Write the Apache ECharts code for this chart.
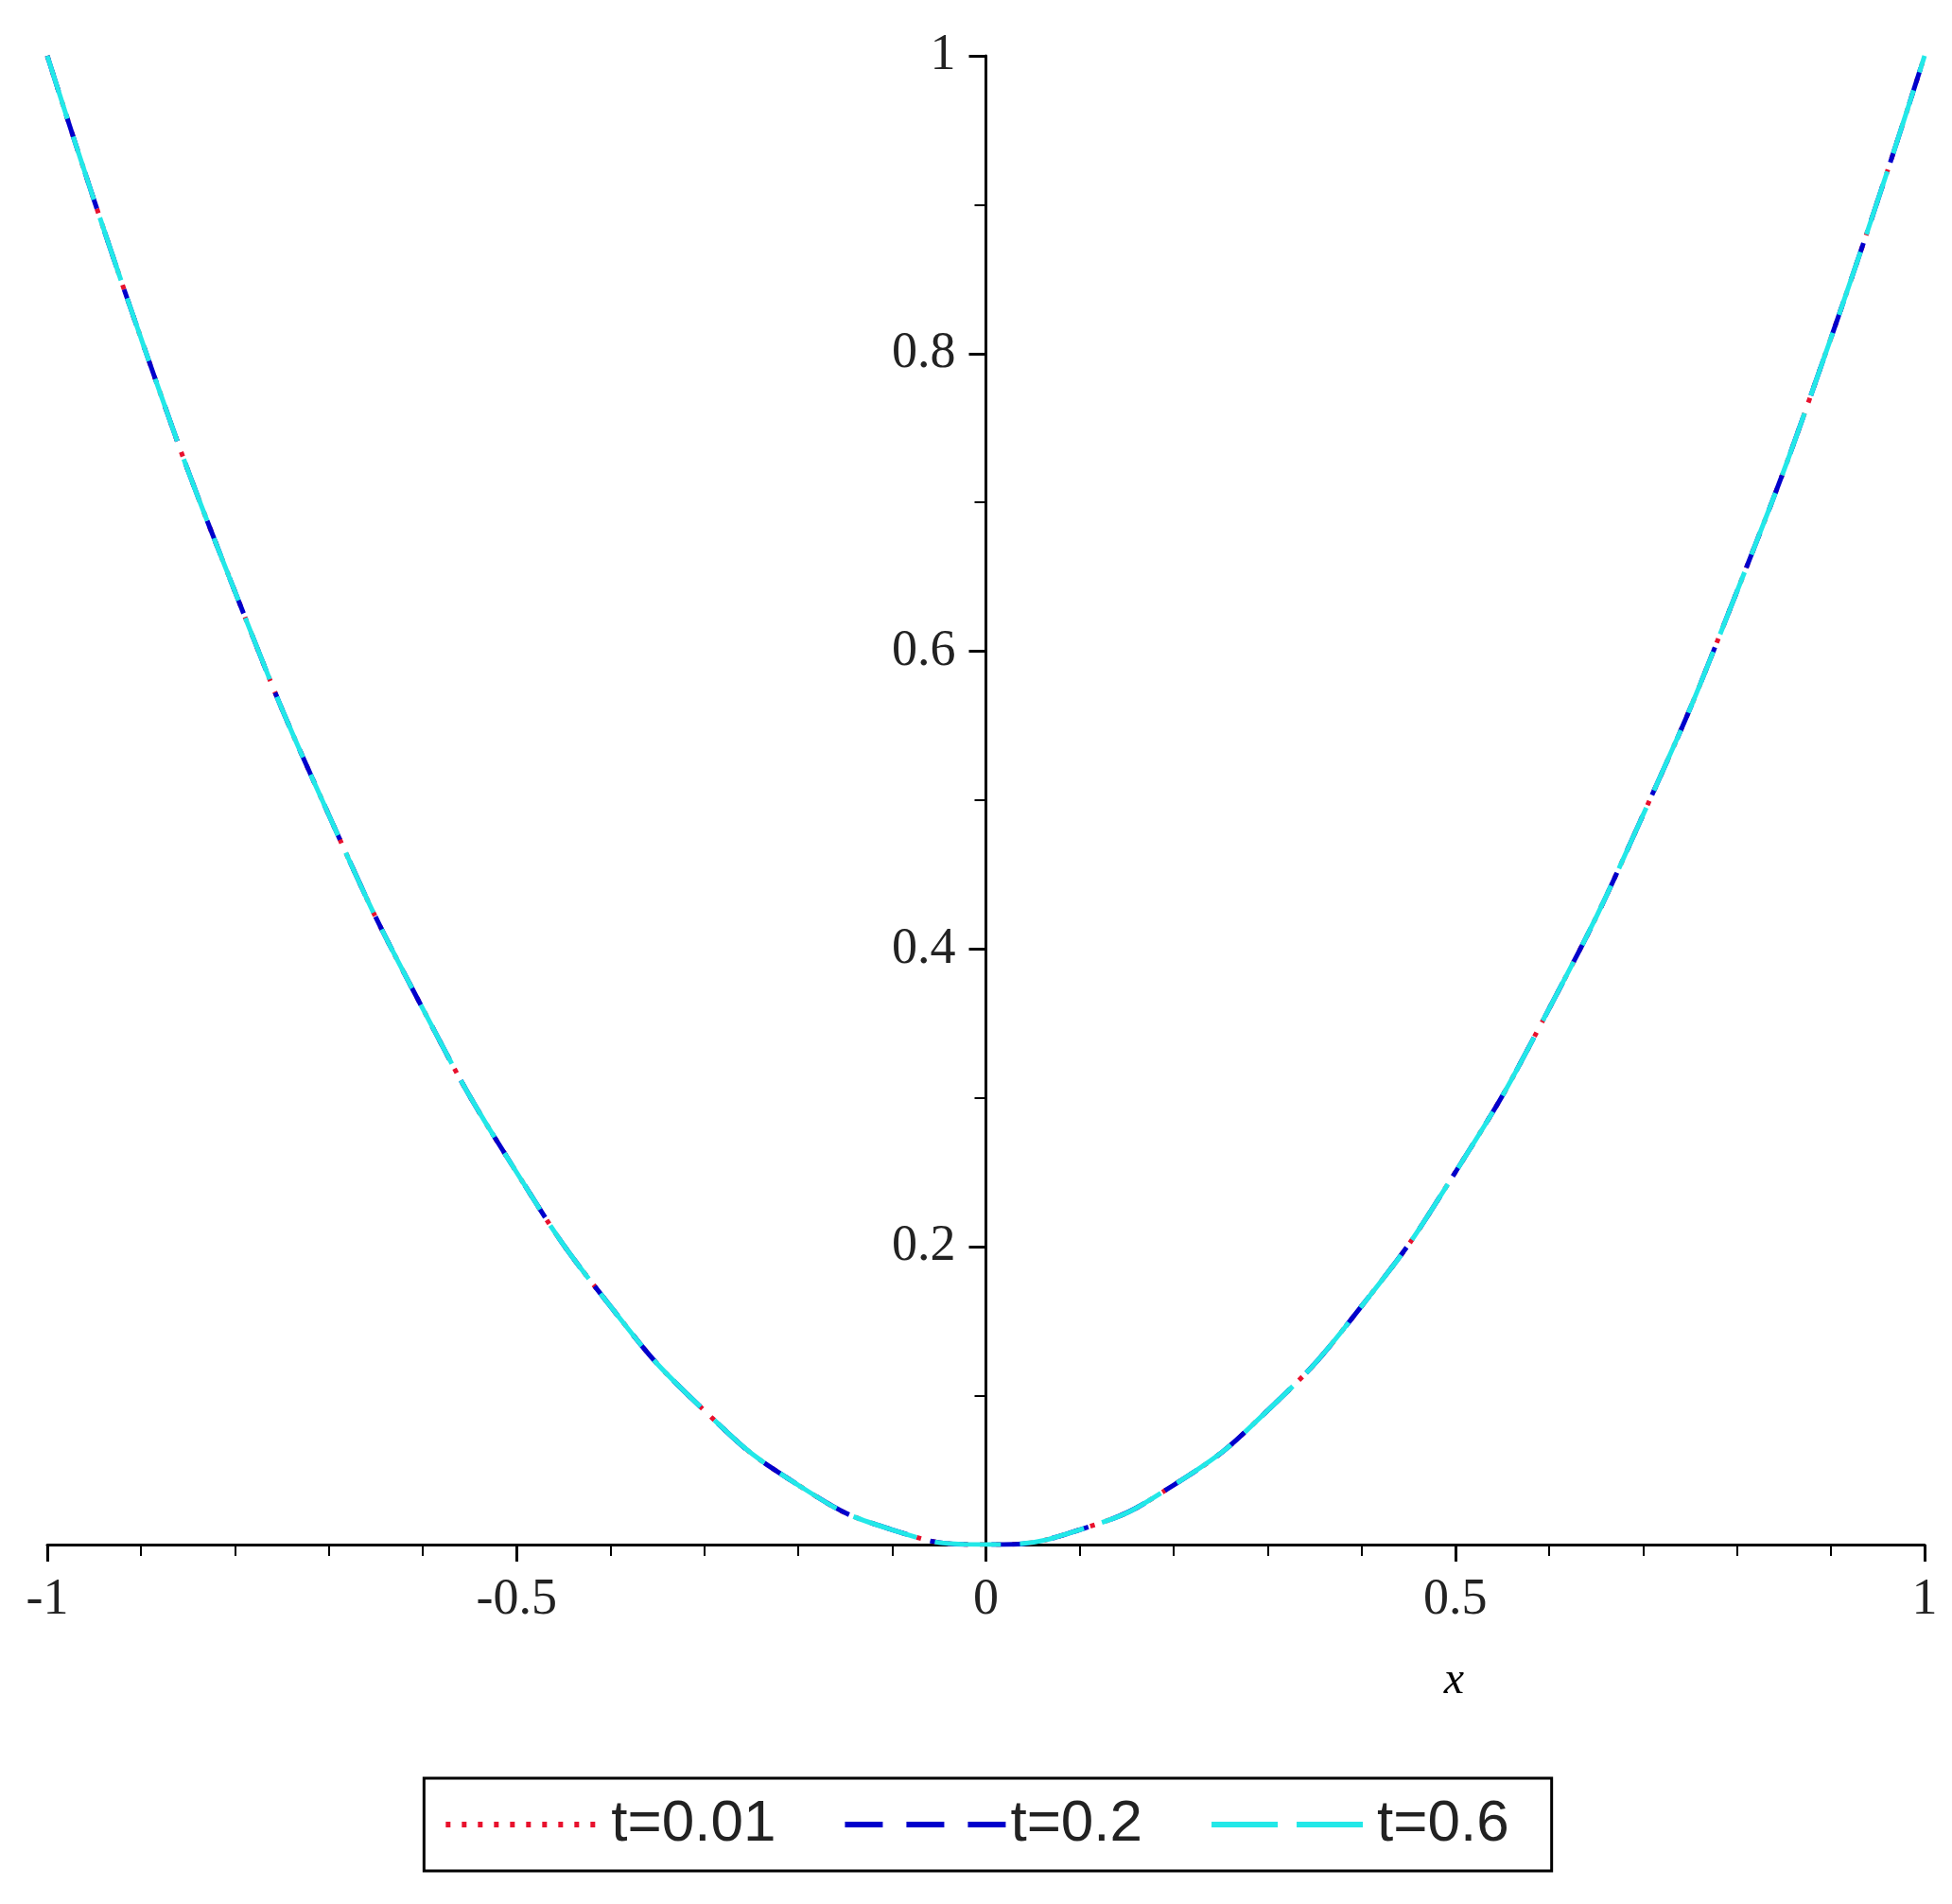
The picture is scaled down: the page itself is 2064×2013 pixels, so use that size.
<!DOCTYPE html>
<html>
<head>
<meta charset="utf-8">
<script src="https://cdn.jsdelivr.net/npm/echarts@6/dist/echarts.min.js"></script>
<style>html,body{margin:0;padding:0;background:#fff}#main{width:2064px;height:2013px}</style>
</head>
<body>
<div id="main"></div>
<script>
// x positions and values
var xs = [-1, -0.9, -0.8, -0.7, -0.6, -0.5, -0.4, -0.3, -0.2, -0.1, 0, 0.1, 0.2, 0.3, 0.4, 0.5, 0.6, 0.7, 0.8, 0.9, 1];
var yT001 = [1, 0.81, 0.64, 0.49, 0.36, 0.25, 0.16, 0.09, 0.04, 0.01, 0, 0.01, 0.04, 0.09, 0.16, 0.25, 0.36, 0.49, 0.64, 0.81, 1];
var yT02 = [1, 0.81, 0.64, 0.49, 0.36, 0.25, 0.16, 0.09, 0.04, 0.01, 0, 0.01, 0.04, 0.09, 0.16, 0.25, 0.36, 0.49, 0.64, 0.81, 1];
var yT06 = [1, 0.81, 0.64, 0.49, 0.36, 0.25, 0.16, 0.09, 0.04, 0.01, 0, 0.01, 0.04, 0.09, 0.16, 0.25, 0.36, 0.49, 0.64, 0.81, 1];
var names = ['t=0.01', 't=0.2', 't=0.6'];

function pairs(ys) {
    var out = [];
    for (var i = 0; i < xs.length; i++) out.push([xs[i], ys[i]]);
    return out;
}

var font = '"Liberation Serif", "DejaVu Serif", serif';
var gridLeft = 50, gridRight = 29;
var plotW = 2064 - gridLeft - gridRight;
var myChart = echarts.init(document.getElementById('main'));
var option = {
    backgroundColor: '#fff',
    animation: false,
    grid: { left: gridLeft, right: gridRight, top: 59, bottom: 380, outerBoundsMode: 'none', containLabel: false },
    legend: {
        bottom: 35, left: 'center',
        padding: [18, 45, 18, 20],
        borderColor: '#000', borderWidth: 3,
        itemWidth: 170, itemHeight: 20, itemGap: 70,
        itemStyle: { opacity: 0 },
        lineStyle: { width: 6 },
        textStyle: { fontFamily: '"Liberation Sans", sans-serif', fontSize: 62, color: '#222' },
        data: names
    },
    xAxis: {
        type: 'value', min: -1, max: 1, interval: 0.5,
        name: 'x', nameLocation: 'middle', nameGap: 120,
        nameTextStyle: { fontFamily: font, fontStyle: 'italic', fontSize: 48, color: '#000', padding: [0, 0, 0, 990] },
        axisLine: { lineStyle: { color: '#000', width: 3 } },
        axisTick: { length: 18, lineStyle: { color: '#000', width: 3 } },
        minorTick: { show: true, splitNumber: 5, length: 12, lineStyle: { color: '#000', width: 2 } },
        axisLabel: { fontFamily: font, fontSize: 54, color: '#222', margin: 32 },
        splitLine: { show: false }
    },
    yAxis: {
        type: 'value', min: 0, max: 1, interval: 0.2,
        position: 'left', offset: -plotW / 2,
        axisLine: { onZero: false, lineStyle: { color: '#000', width: 3 } },
        axisTick: { length: 18, lineStyle: { color: '#000', width: 3 } },
        minorTick: { show: true, splitNumber: 2, length: 12, lineStyle: { color: '#000', width: 2 } },
        axisLabel: { fontFamily: font, fontSize: 54, color: '#222', margin: 32,
            formatter: function (v) { return v === 0 ? '' : String(v); } },
        splitLine: { show: false }
    },
    series: [
        { name: names[0], type: 'line', smooth: true, symbol: 'none', data: pairs(yT001),
          lineStyle: { color: '#e8112d', width: 5, type: [5, 12] }, itemStyle: { color: '#e8112d' } },
        { name: names[1], type: 'line', smooth: true, symbol: 'none', data: pairs(yT02),
          lineStyle: { color: '#0000cc', width: 5, type: [40, 25] }, itemStyle: { color: '#0000cc' } },
        { name: names[2], type: 'line', smooth: true, symbol: 'none', data: pairs(yT06),
          lineStyle: { color: '#22e8e8', width: 5, type: [70, 20] }, itemStyle: { color: '#22e8e8' } }
    ]
};
myChart.setOption(option);
</script>
</body>
</html>
